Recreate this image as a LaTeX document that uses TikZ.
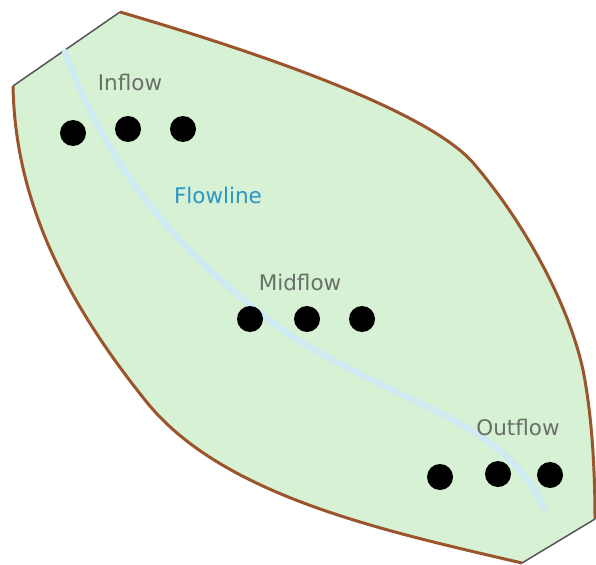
\documentclass[tikz,border=0pt]{standalone}
\usepackage{fontspec}
\setmainfont{DejaVu Sans}
\definecolor{leaf}{RGB}{214,241,211}
\definecolor{rim}{RGB}{155,85,45}
\definecolor{edgegray}{RGB}{85,85,85}
\definecolor{flow}{RGB}{205,234,245}
\definecolor{labelgray}{RGB}{105,112,105}
\definecolor{flowblue}{RGB}{40,150,200}
\begin{document}
\begin{tikzpicture}[x=1pt,y=-1pt,
  dot/.style={circle,fill=black,inner sep=0pt,minimum size=26pt},
  lbl/.style={text=labelgray,font=\fontsize{21.5}{24}\selectfont},
  flowlbl/.style={text=flowblue,font=\fontsize{21.5}{24}\selectfont}]
\useasboundingbox (0,0) rectangle (596,564);
\coordinate (tl1) at (13,86);
\coordinate (tl2) at (120,12);
\coordinate (br1) at (595,519);
\coordinate (br2) at (522,563);
% fill
\fill[leaf] (tl1) -- (tl2)
  .. controls (250,50) and (430,110) .. (475,165)
  .. controls (530,230) and (570,310) .. (583,370)
  .. controls (593,420) and (595,480) .. (br1)
  -- (br2)
  .. controls (380,530) and (220,495) .. (145,400)
  .. controls (65,300) and (15,200) .. (tl1) -- cycle;
% brown rims
\draw[rim,line width=3pt] (tl2)
  .. controls (250,50) and (430,110) .. (475,165)
  .. controls (530,230) and (570,310) .. (583,370)
  .. controls (593,420) and (595,480) .. (br1);
\draw[rim,line width=3pt] (br2)
  .. controls (380,530) and (220,495) .. (145,400)
  .. controls (65,300) and (15,200) .. (tl1);
% gray edges
\draw[edgegray,line width=1.5pt] (tl1) -- (tl2);
\draw[edgegray,line width=1.5pt] (br1) -- (br2);
% flowline
\coordinate (fs) at (65,52);
\coordinate (fe) at (545,510);
\draw[flow,line width=6pt,line cap=round] (fs)
  .. controls (105,160) and (170,250) .. (290,335)
  .. controls (410,410) and (505,420) .. (fe);
% labels
\node[lbl] (inflow) at (130,82) {Inflow};
\node[flowlbl] (flowline) at (218,195) {Flowline};
\node[lbl] (midflow) at (300,282) {Midflow};
\node[lbl] (outflow) at (518,427) {Outflow};
% dots
\node[dot] (i1) at (73,133) {};
\node[dot] (i2) at (128,129) {};
\node[dot] (i3) at (183,129) {};
\node[dot] (m1) at (250,319) {};
\node[dot] (m2) at (307,319) {};
\node[dot] (m3) at (362,319) {};
\node[dot] (o1) at (440,477) {};
\node[dot] (o2) at (498,474) {};
\node[dot] (o3) at (550,475) {};
\end{tikzpicture}
\end{document}
